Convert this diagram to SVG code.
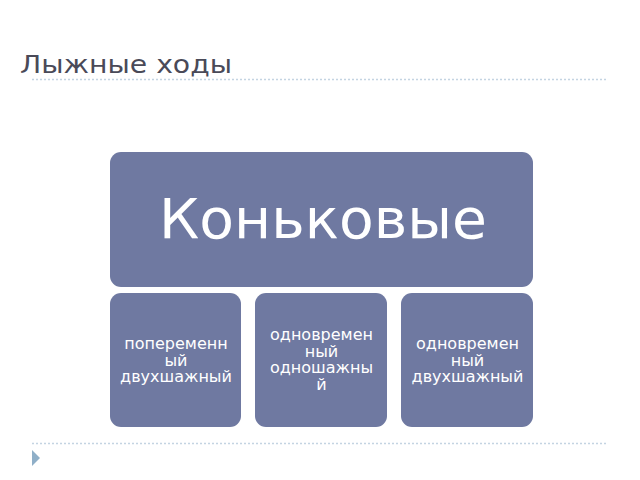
<svg xmlns="http://www.w3.org/2000/svg" width="640" height="480" viewBox="0 0 640 480">
<style>
.box{fill:#6f79a1;}
.t{font-family:"DejaVu Sans","Noto Sans",sans-serif;fill:#ffffff;text-anchor:middle;}
.s{font-size:16px;}
.dot{stroke:#c4d4e2;stroke-width:1.5;stroke-dasharray:2 2;}
</style>
<rect width="640" height="480" fill="#ffffff"/>
<text x="20" y="73" font-family="DejaVu Sans,'Noto Sans',sans-serif" font-size="24.5" fill="#4a4a58" textLength="212" lengthAdjust="spacingAndGlyphs">Лыжные ходы</text>
<line class="dot" x1="32" y1="79.5" x2="608" y2="79.5"/>
<line class="dot" x1="32" y1="443.5" x2="608" y2="443.5"/>
<polygon points="32,450 40,458 32,466" fill="#8fafc8"/>
<g id="connectors"></g>
<g id="top">
<rect class="box" x="110" y="152" width="423" height="135" rx="11"/>
<text class="t" x="323" y="238" font-size="55" textLength="328" lengthAdjust="spacingAndGlyphs">Коньковые</text>
</g>
<g id="n1">
<rect class="box" x="110" y="293" width="131" height="134" rx="11"/>
<text class="t s"><tspan x="176" y="349">попеременн</tspan><tspan x="176" y="365.5">ый</tspan><tspan x="176" y="382">двухшажный</tspan></text>
</g>
<g id="n2">
<rect class="box" x="255" y="293" width="132" height="134" rx="11"/>
<text class="t s"><tspan x="321.5" y="340">одновремен</tspan><tspan x="321.5" y="356.5">ный</tspan><tspan x="321.5" y="373">одношажны</tspan><tspan x="321.5" y="389.5">й</tspan></text>
</g>
<g id="n3">
<rect class="box" x="401" y="293" width="132" height="134" rx="11"/>
<text class="t s"><tspan x="467.5" y="349">одновремен</tspan><tspan x="467.5" y="365.5">ный</tspan><tspan x="467.5" y="382">двухшажный</tspan></text>
</g>
</svg>
